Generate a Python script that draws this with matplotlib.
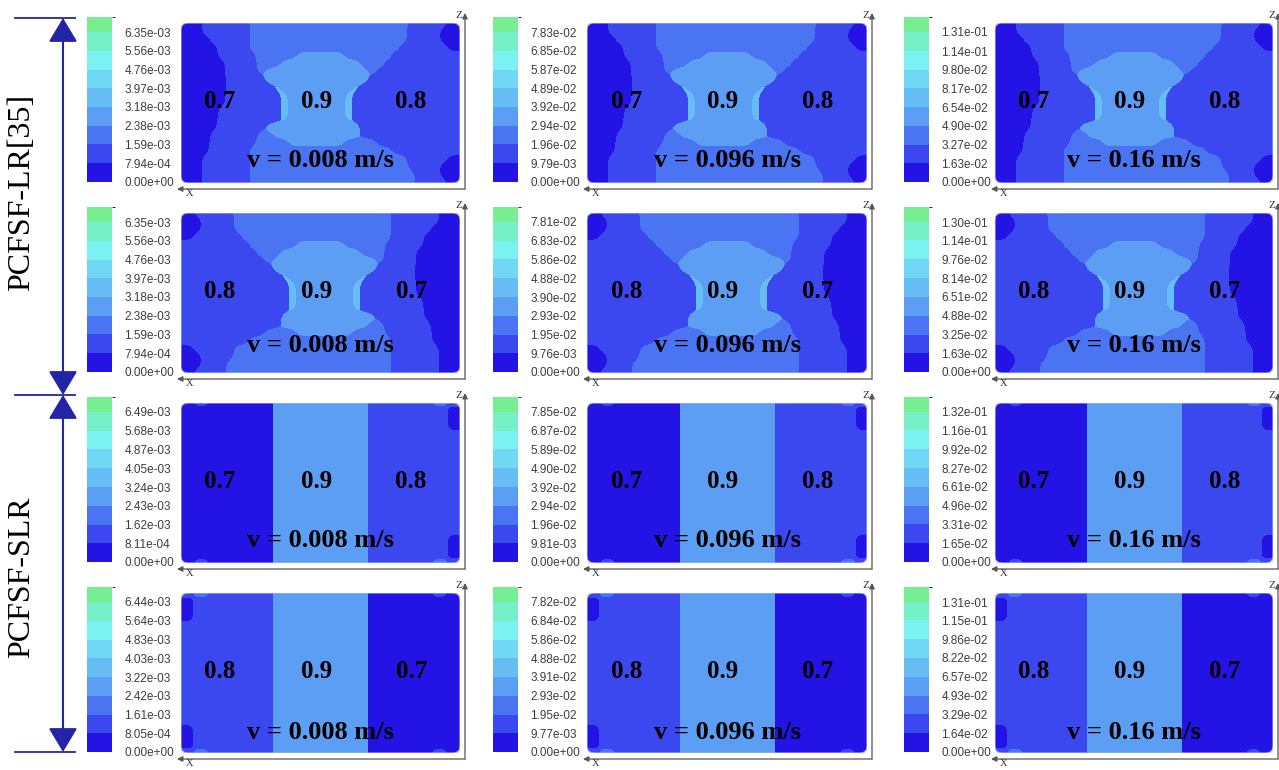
import matplotlib.pyplot as plt
import numpy as np
from matplotlib.colors import ListedColormap, BoundaryNorm
from matplotlib.patches import FancyBboxPatch, ArrowStyle

# contour band colours, lowest band first
band_colors = ['#2313e4', '#3b47ef', '#4a74f1', '#5c9ef3', '#66bdf4',
               '#70d8f4', '#7af2f2', '#76f0c6', '#78ee92']

# colorbar tick values, one list per panel (row, column)
ticks_lr_1 = [[0, 7.94e-4, 1.59e-3, 2.38e-3, 3.18e-3, 3.97e-3, 4.76e-3, 5.56e-3, 6.35e-3],
              [0, 9.79e-3, 1.96e-2, 2.94e-2, 3.92e-2, 4.89e-2, 5.87e-2, 6.85e-2, 7.83e-2],
              [0, 1.63e-2, 3.27e-2, 4.90e-2, 6.54e-2, 8.17e-2, 9.80e-2, 1.14e-1, 1.31e-1]]
ticks_lr_2 = [[0, 7.94e-4, 1.59e-3, 2.38e-3, 3.18e-3, 3.97e-3, 4.76e-3, 5.56e-3, 6.35e-3],
              [0, 9.76e-3, 1.95e-2, 2.93e-2, 3.90e-2, 4.88e-2, 5.86e-2, 6.83e-2, 7.81e-2],
              [0, 1.63e-2, 3.25e-2, 4.88e-2, 6.51e-2, 8.14e-2, 9.76e-2, 1.14e-1, 1.30e-1]]
ticks_slr_1 = [[0, 8.11e-4, 1.62e-3, 2.43e-3, 3.24e-3, 4.05e-3, 4.87e-3, 5.68e-3, 6.49e-3],
               [0, 9.81e-3, 1.96e-2, 2.94e-2, 3.92e-2, 4.90e-2, 5.89e-2, 6.87e-2, 7.85e-2],
               [0, 1.65e-2, 3.31e-2, 4.96e-2, 6.61e-2, 8.27e-2, 9.92e-2, 1.16e-1, 1.32e-1]]
ticks_slr_2 = [[0, 8.05e-4, 1.61e-3, 2.42e-3, 3.22e-3, 4.03e-3, 4.83e-3, 5.64e-3, 6.44e-3],
               [0, 9.77e-3, 1.95e-2, 2.93e-2, 3.91e-2, 4.88e-2, 5.86e-2, 6.84e-2, 7.82e-2],
               [0, 1.64e-2, 3.29e-2, 4.93e-2, 6.57e-2, 8.22e-2, 9.86e-2, 1.15e-1, 1.31e-1]]

speeds = ['0.008', '0.096', '0.16']
porosity_rows = [['0.7', '0.9', '0.8'], ['0.8', '0.9', '0.7'],
                 ['0.7', '0.9', '0.8'], ['0.8', '0.9', '0.7']]
group_names = ['PCFSF-LR[35]', 'PCFSF-SLR']

# band index per node of a 36 x 21 grid, run-length coded (band, count), top row first
lr_runs = [
    [(0, 3), (1, 6), (2, 20), (1, 5), (0, 2)],
    [(0, 3), (1, 6), (2, 20), (1, 4), (0, 3)],
    [(0, 4), (1, 5), (2, 20), (1, 4), (0, 3)],
    [(0, 5), (1, 4), (2, 19), (1, 6), (0, 2)],
    [(0, 5), (1, 5), (2, 5), (3, 6), (2, 6), (1, 9)],
    [(0, 6), (1, 4), (2, 3), (3, 10), (2, 3), (1, 10)],
    [(0, 6), (1, 4), (2, 1), (3, 13), (2, 1), (1, 11)],
    [(0, 6), (1, 5), (3, 13), (1, 12)],
    [(0, 6), (1, 6), (4, 1), (3, 9), (4, 1), (1, 13)],
    [(0, 6), (1, 7), (4, 1), (3, 7), (4, 1), (1, 14)],
    [(0, 6), (1, 7), (4, 1), (3, 7), (4, 1), (1, 14)],
    [(0, 5), (1, 8), (4, 1), (3, 7), (4, 1), (1, 14)],
    [(0, 5), (1, 8), (4, 1), (3, 7), (4, 1), (1, 14)],
    [(0, 5), (1, 6), (3, 12), (1, 13)],
    [(0, 4), (1, 6), (2, 2), (3, 11), (1, 13)],
    [(0, 4), (1, 6), (2, 4), (3, 7), (2, 4), (1, 11)],
    [(0, 4), (1, 5), (2, 18), (1, 9)],
    [(0, 3), (1, 6), (2, 20), (1, 5), (0, 2)],
    [(0, 3), (1, 6), (2, 20), (1, 4), (0, 3)],
    [(0, 3), (1, 6), (2, 21), (1, 3), (0, 3)],
    [(0, 3), (1, 6), (2, 21), (1, 4), (0, 2)],
]
slr_runs = (
    [[(0, 2), (1, 2), (0, 8), (3, 12), (1, 8), (2, 2), (1, 2)]]
    + [[(0, 12), (3, 12), (1, 10), (0, 2)]] * 3
    + [[(0, 12), (3, 12), (1, 12)]] * 13
    + [[(0, 12), (3, 12), (1, 10), (0, 2)]] * 3
    + [[(0, 2), (1, 2), (0, 8), (3, 12), (1, 8), (2, 2), (1, 2)]]
)

# layout in pixels
W, H = 1279, 770
col_x = [(181, 460), (587, 867), (995, 1273)]
row_y = [(23, 183), (213, 373), (403, 563), (593, 753)]
cbar_x = [87, 493, 904]
speed_y = [0.86, 0.83, 0.86, 0.87]   # measured from the top of each panel


def decode(runs):
    return np.array([[b for b, n in row for _ in range(n)] for row in runs])


def resample(a, ny, nx):
    r = np.arange(a.shape[0])
    c = np.arange(a.shape[1])
    tmp = np.array([np.interp(np.linspace(0, c[-1], nx), c, row) for row in a])
    return np.array([np.interp(np.linspace(0, r[-1], ny), r, col) for col in tmp.T]).T


def blur(a, sigma):
    r = int(3 * sigma)
    k = np.exp(-0.5 * (np.arange(-r, r + 1) / sigma) ** 2)
    k /= k.sum()
    p = np.pad(a, r, mode='edge')
    p = np.apply_along_axis(lambda v: np.convolve(v, k, mode='valid'), 0, p)
    p = np.apply_along_axis(lambda v: np.convolve(v, k, mode='valid'), 1, p)
    return p


def band_map(grid, ny=161, nx=281, sigma=4.5):
    bands = np.unique(grid)
    stack = [blur(resample((grid == b).astype(float), ny, nx), sigma) for b in bands]
    return bands[np.argmax(stack, axis=0)]


lr_map = band_map(decode(lr_runs))
slr_map = band_map(decode(slr_runs), sigma=3.5)
row_maps = [lr_map, lr_map[:, ::-1], slr_map, slr_map[:, ::-1]]
row_ticks = [ticks_lr_1, ticks_lr_2, ticks_slr_1, ticks_slr_2]

fig = plt.figure(figsize=(W / 100, H / 100), dpi=100)
cmap = ListedColormap(band_colors)


def fig_rect(x0, y0, x1, y1):
    return [x0 / W, 1 - y1 / H, (x1 - x0) / W, (y1 - y0) / H]


for i, (y0, y1) in enumerate(row_y):
    for j, (x0, x1) in enumerate(col_x):
        ticks = row_ticks[i][j]
        step = ticks[1]
        bounds = ticks + [ticks[-1] + 0.8 * step]
        norm = BoundaryNorm(bounds, cmap.N)
        field = (row_maps[i] + 0.5) * step

        ax = fig.add_axes(fig_rect(x0, y0, x1, y1))
        im = ax.imshow(field, cmap=cmap, norm=norm, extent=(0, 280, 160, 0),
                       interpolation='nearest', aspect='auto')
        clip = FancyBboxPatch((0, 0), 280, 160, boxstyle='round,pad=0,rounding_size=7',
                              transform=ax.transData)
        im.set_clip_path(clip)
        ax.add_patch(FancyBboxPatch((0, 0), 280, 160, boxstyle='round,pad=0,rounding_size=7',
                                    fill=False, edgecolor='#aab6ec', lw=0.8))
        ax.set_xlim(0, 280)
        ax.set_ylim(160, 0)
        ax.axis('off')

        for k, xf in enumerate([0.14, 0.485, 0.825]):
            ax.text(xf, 0.51, porosity_rows[i][k], transform=ax.transAxes, ha='center',
                    va='center', fontsize=18, fontweight='bold', family='Liberation Serif')
        ax.text(0.5, 1 - speed_y[i], f'v = {speeds[j]} m/s', transform=ax.transAxes,
                ha='center', va='center', fontsize=19, fontweight='bold',
                family='Liberation Serif')

        cax = fig.add_axes(fig_rect(cbar_x[j], y0 - 6, cbar_x[j] + 25, y1 - 1))
        cb = fig.colorbar(im, cax=cax, boundaries=bounds, ticks=ticks,
                          spacing='proportional')
        cb.outline.set_visible(False)
        cax.set_yticklabels([f'{t:.2e}' for t in ticks])
        cax.tick_params(length=0, pad=9, labelsize=8.5, labelcolor='#3c3c3c')
        for lab in cax.get_yticklabels():
            lab.set_family('Liberation Sans')

# overlay in pixel coordinates for axis triads and the group brackets
ov = fig.add_axes([0, 0, 1, 1])
ov.set_xlim(0, W)
ov.set_ylim(H, 0)
ov.axis('off')

for (y0, y1) in row_y:
    for (x0, x1) in col_x:
        cx, cy = x1 + 5, y1 + 6
        ov.annotate('', xy=(cx, y0 - 10), xytext=(cx, cy),
                    arrowprops=dict(arrowstyle='-|>', color='#555555', lw=0.9,
                                    mutation_scale=8, shrinkA=0, shrinkB=0))
        ov.annotate('', xy=(x0 - 4, cy), xytext=(cx, cy),
                    arrowprops=dict(arrowstyle='-|>', color='#555555', lw=0.9,
                                    mutation_scale=8, shrinkA=0, shrinkB=0))
        ov.text(cx - 3, y0 - 8, 'Z', ha='right', va='center', fontsize=8,
                family='Liberation Serif', color='#333333')
        ov.text(x0 + 5, cy + 0.5, 'X', ha='left', va='top', fontsize=7.5,
                family='Liberation Serif', color='#333333')

navy = '#2424a6'
bracket_y = [18, 395, 752]
label_y = [192, 577]
style = ArrowStyle('<|-|>', head_length=0.5, head_width=0.3)
for k in range(2):
    ya, yb = bracket_y[k], bracket_y[k + 1]
    ov.annotate('', xy=(63, ya), xytext=(63, yb),
                arrowprops=dict(arrowstyle=style, color=navy, lw=1.5,
                                mutation_scale=30, shrinkA=0, shrinkB=0))
    ov.text(22, label_y[k], group_names[k], rotation=90, ha='center', va='center',
            fontsize=23, family='Liberation Serif')
for yb in bracket_y:
    ov.plot([15, 75], [yb, yb], color=navy, lw=1.3)

fig.savefig('out.png', dpi=100)
